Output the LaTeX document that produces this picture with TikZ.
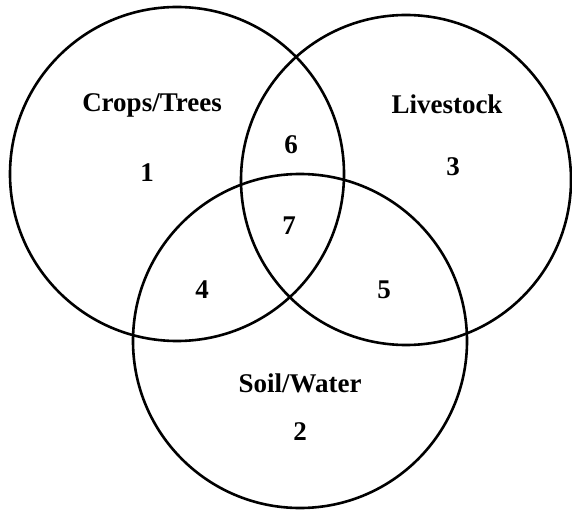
\documentclass[tikz,border=0pt]{standalone}
\usepackage{fontspec}
\setmainfont{Liberation Serif}
\usepackage{tikz}
\usetikzlibrary{shapes.geometric, positioning}
\tikzstyle{setcircle} = [circle, draw=black, line width=2.6pt, inner sep=0pt, minimum size=334pt]
\tikzstyle{setlabel} = [font=\fontsize{27}{32}\selectfont\bfseries, inner sep=0pt, anchor=center]

\begin{document}
\begin{tikzpicture}[x=1pt, y=-1pt]
    \useasboundingbox (0,0) rectangle (572,510);
    % Define circles
    \node (crops) [setcircle] at (177,174) {};
    \node (livestock) [setcircle, minimum size=330pt] at (406,180) {};
    \node (soil) [setcircle] at (300,341) {};

    % Set names
    \node (cropsname) [setlabel] at (152,105) {Crops/Trees};
    \node (livestockname) [setlabel] at (447,104) {Livestock};
    \node (soilname) [setlabel] at (300,383) {Soil/Water};

    % Region numbers
    \node (r1) [setlabel] at (147,173) {1};
    \node (r2) [setlabel, below=30pt of soilname] {2};
    \node (r3) [setlabel] at (453,167) {3};
    \node (r4) [setlabel] at (202,290) {4};
    \node (r5) [setlabel] at (384,290) {5};
    \node (r6) [setlabel] at (291,145) {6};
    \node (r7) [setlabel] at (289,226) {7};
\end{tikzpicture}
\end{document}
